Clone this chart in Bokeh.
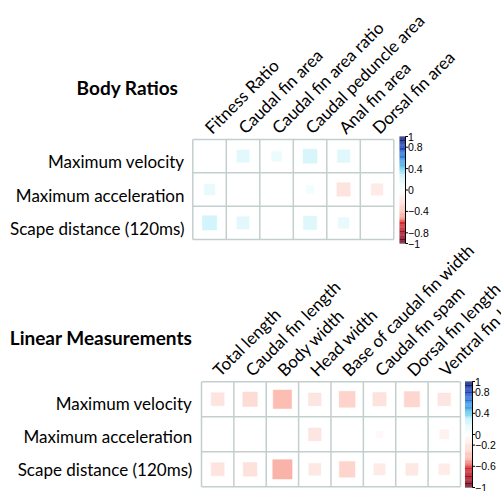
import numpy as np
from bokeh.plotting import figure
from bokeh.models import Range1d
from bokeh.core.properties import value
from bokeh.embed import file_html
from bokeh.resources import INLINE

# ---------------- data ----------------
rows = ["Maximum velocity", "Maximum acceleration", "Scape distance (120ms)"]

ratio_cols = ["Fitness Ratio", "Caudal fin area", "Caudal fin area ratio",
              "Caudal peduncle area", "Anal fin area", "Dorsal fin area"]
ratio_vel = [0.0, 0.17, 0.11, 0.22, 0.18, 0.01]
ratio_acc = [0.13, 0.0, 0.01, 0.07, -0.20, -0.15]
ratio_esc = [0.23, 0.17, 0.0, 0.20, 0.13, 0.0]

linear_cols = ["Total length", "Caudal fin length", "Body width", "Head width",
               "Base of caudal fin width", "Caudal fin spam", "Dorsal fin length",
               "Ventral fin length"]
lin_vel = [-0.20, -0.25, -0.40, -0.19, -0.30, -0.21, -0.28, -0.19]
lin_acc = [0.01, 0.005, 0.0, -0.19, 0.0, -0.05, 0.01, -0.10]
lin_esc = [-0.20, -0.22, -0.44, -0.17, -0.29, -0.15, -0.17, -0.14]

bar_labels_ratio = [1, 0.8, 0.4, 0, -0.4, -0.8, -1]
bar_labels_linear = [1, 0.8, 0.4, 0, -0.2, -0.6, -1]

titles = ["Body Ratios", "Linear Measurements"]

# ---------------- colour ramp ----------------
ANCHORS = [(-1.0, "#5A0015"), (-0.8, "#A80A1E"), (-0.6, "#DC2A2A"), (-0.5, "#F8A59C"),
           (-0.4, "#FCBDB2"), (-0.3, "#FDD3CB"), (-0.2, "#FDE4DF"), (0.0, "#FFFFFF"),
           (0.2, "#DDF7FB"), (0.3, "#BDEEF8"), (0.4, "#5CC8EC"), (0.6, "#2A86DD"),
           (0.8, "#1440C0"), (1.0, "#061460")]


def _rgb(h):
    return [int(h[i:i + 2], 16) for i in (1, 3, 5)]


def colour(v):
    v = max(-1.0, min(1.0, v))
    for (a, ca), (b, cb) in zip(ANCHORS[:-1], ANCHORS[1:]):
        if a <= v <= b:
            t = (v - a) / (b - a)
            c1, c2 = _rgb(ca), _rgb(cb)
            c = [round(x + (y - x) * t) for x, y in zip(c1, c2)]
            return "#%02x%02x%02x" % tuple(c)
    return "#ffffff"


def fmt(v):
    s = ("%g" % abs(v))
    return ("\u2212" + s) if v < 0 else s


# ---------------- figure ----------------
W, H = 501, 491
p = figure(width=W, height=H, output_backend="svg", toolbar_location=None,
           x_range=Range1d(0, W), y_range=Range1d(H, 0),
           x_axis_type=None, y_axis_type=None, min_border=0)
p.grid.visible = False
p.outline_line_color = None
p.background_fill_color = "white"

FONT = value("Lato")
GRID = "#C3CFCD"

panels = [
    dict(cols=ratio_cols, data=[ratio_vel, ratio_acc, ratio_esc], title=titles[0],
         left=192.3, top=139.0, cw=33.5, ch=33.33, lab_y=[161.2, 194.5, 227.8],
         lab_right=184.0, title_xy=(127, 87.3),
         bar=(399.0, 405.0, 136.0, 243.0), bar_labels=bar_labels_ratio),
    dict(cols=linear_cols, data=[lin_vel, lin_acc, lin_esc], title=titles[1],
         left=201.0, top=381.3, cw=32.37, ch=35.0, lab_y=[403.3, 436.3, 469.3],
         lab_right=191.7, title_xy=(100.5, 337.3),
         bar=(464.5, 472.0, 381.0, 487.0), bar_labels=bar_labels_linear),
]

for pn in panels:
    ncol, nrow = len(pn["cols"]), len(rows)
    L, T, cw, ch = pn["left"], pn["top"], pn["cw"], pn["ch"]

    # grid
    xs = [[L + j * cw, L + j * cw] for j in range(ncol + 1)]
    ys = [[T, T + nrow * ch] for _ in range(ncol + 1)]
    xs += [[L, L + ncol * cw] for _ in range(nrow + 1)]
    ys += [[T + i * ch, T + i * ch] for i in range(nrow + 1)]
    p.multi_line(xs=xs, ys=ys, line_color=GRID, line_width=1.5)

    # squares (side ~ sqrt|r|, colour from r)
    cx, cy, sz, cl = [], [], [], []
    side = min(cw, ch)
    for i, rv in enumerate(pn["data"]):
        for j, r in enumerate(rv):
            cx.append(L + (j + 0.5) * cw)
            cy.append(T + (i + 0.5) * ch)
            sz.append(0.9 * np.sqrt(abs(r)) * side)
            cl.append(colour(r))
    p.rect(x=cx, y=cy, width=sz, height=sz, fill_color=cl, line_color=cl, line_width=0.5)

    # row labels
    p.text(x=[pn["lab_right"]] * nrow, y=pn["lab_y"],
           text=rows, text_align="right", text_baseline="alphabetic",
           text_font=FONT, text_font_size="17px", text_color="black")

    # column labels
    p.text(x=[L + (j + 0.5) * cw - 2 for j in range(ncol)], y=[T - 9] * ncol,
           text=pn["cols"], angle=np.pi / 4, text_align="left", text_baseline="alphabetic",
           text_font=FONT, text_font_size="17px", text_color="black")

    # title
    p.text(x=[pn["title_xy"][0]], y=[pn["title_xy"][1]], text=[pn["title"]],
           text_align="center", text_baseline="alphabetic", text_font=FONT,
           text_font_size="19px", text_font_style="bold", text_color="black")

    # colour bar
    bl, br, bt, bb = pn["bar"]
    n = 120
    vals = np.linspace(-1, 1, n + 1)

    def vy(v, bt=bt, bb=bb):
        return bb - (v + 1) / 2 * (bb - bt)

    p.quad(left=[bl] * n, right=[br] * n,
           top=[vy(vals[k + 1]) for k in range(n)], bottom=[vy(vals[k]) for k in range(n)],
           fill_color=[colour((vals[k] + vals[k + 1]) / 2) for k in range(n)],
           line_color=None)
    p.segment(x0=[br], y0=[bt], x1=[br], y1=[bb], line_color="black", line_width=1)
    tv = pn["bar_labels"]
    p.segment(x0=[br] * len(tv), y0=[vy(v) for v in tv], x1=[br + 2.5] * len(tv),
              y1=[vy(v) for v in tv], line_color="black", line_width=1)
    p.text(x=[br + 2.5] * len(tv), y=[vy(v) for v in tv], text=[fmt(v) for v in tv],
           text_align="left", text_baseline="middle",
           text_font=value("Liberation Sans"), text_font_size="10.5px",
           text_color="black")

open("out.html", "w").write(file_html(p, INLINE))
